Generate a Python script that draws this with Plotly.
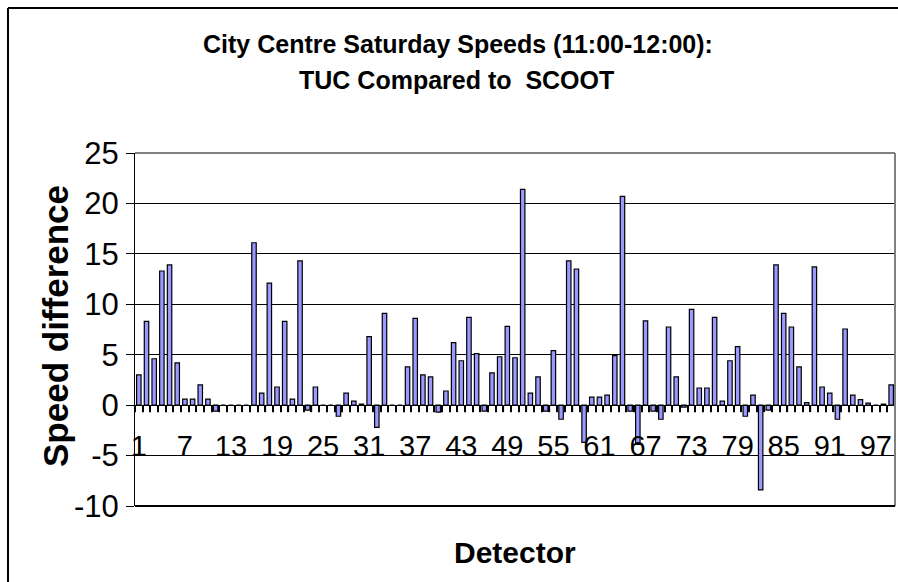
import plotly.graph_objects as go

# ---- data ----
detectors = list(range(1, 100))
speed_difference = [
    3.0, 8.3, 4.6, 13.3, 13.9, 4.2, 0.6, 0.6, 2.0, 0.6,
    -0.6, 0.0, 0.0, 0.0, 0.0, 16.1, 1.2, 12.1, 1.8, 8.3,
    0.6, 14.3, -0.5, 1.8, 0.0, 0.0, -1.1, 1.2, 0.4, 0.1,
    6.8, -2.2, 9.1, 0.0, 0.0, 3.8, 8.6, 3.0, 2.8, -0.7,
    1.4, 6.2, 4.4, 8.7, 5.1, -0.6, 3.2, 4.8, 7.8, 4.7,
    21.4, 1.2, 2.8, -0.6, 5.4, -1.4, 14.3, 13.5, -3.7, 0.8,
    0.8, 1.0, 4.9, 20.7, -0.6, -3.9, 8.35, -0.6, -1.4, 7.75,
    2.8, -0.2, 9.5, 1.7, 1.7, 8.7, 0.4, 4.4, 5.8, -1.1,
    1.0, -8.4, -0.5, 13.9, 9.1, 7.75, 3.8, 0.25, 13.7, 1.8,
    1.2, -1.4, 7.55, 1.0, 0.55, 0.2, 0.0, 0.1, 2.0,
]
x_tick_values = list(range(1, 98, 6))
x_tick_labels = [str(v) for v in x_tick_values]
y_tick_values = [25, 20, 15, 10, 5, 0, -5, -10]
y_tick_labels = [str(v) for v in y_tick_values]

title_line1 = "City Centre Saturday Speeds (11:00-12:00):"
title_line2 = "TUC Compared to  SCOOT"
y_title = "Speed difference"
x_title = "Detector"

FONT = "Liberation Sans, Arial, sans-serif"
W, H = 898, 582
L, R, T, B = 135, 3, 153, 76
PW = W - L - R
PH = H - T - B


def px_x(px):
    return (px - L) / PW


def px_y(py):
    return (H - B - py) / PH


x_range = [detectors[0] - 0.5, detectors[-1] + 0.5]
y_min, y_max = -10, 25
zero_pos = (0 - y_min) / (y_max - y_min)
TICK_LEN_PX = 7
tick_len = TICK_LEN_PX * (y_max - y_min) / PH          # data units
tick_width = 1.2 * (x_range[1] - x_range[0]) / PW      # data units (~1 px)

fig = go.Figure()
fig.add_trace(go.Bar(
    x=detectors,
    y=speed_difference,
    width=0.58,
    marker=dict(color="#9999FF", line=dict(color="black", width=1.2)),
    showlegend=False,
))

# category-axis tick marks between detectors, drawn as thin bars below zero
tick_edges = [d - 0.5 for d in detectors] + [detectors[-1] + 0.5]
fig.add_trace(go.Bar(
    x=tick_edges,
    y=[-tick_len] * len(tick_edges),
    width=tick_width,
    marker=dict(color="black", line=dict(width=0)),
    showlegend=False, hoverinfo="skip",
))

fig.update_layout(
    width=W, height=H,
    margin=dict(l=L, r=R, t=T, b=B, pad=0),
    paper_bgcolor="white",
    plot_bgcolor="white",
    barmode="overlay",
    font=dict(family=FONT, color="black"),
    xaxis=dict(
        range=x_range,
        anchor="free",
        position=zero_pos,
        showline=True, linecolor="black", linewidth=1,
        showgrid=False, zeroline=False,
        tickmode="array", tickvals=x_tick_values, ticktext=x_tick_labels,
        ticks="", ticklabelstandoff=15,
        tickfont=dict(size=29, family=FONT),
    ),
    yaxis=dict(
        range=[y_min, y_max],
        showline=True, linecolor="black", linewidth=1,
        showgrid=True, gridcolor="black", gridwidth=1,
        zeroline=False,
        tickmode="array", tickvals=y_tick_values, ticktext=y_tick_labels,
        ticks="outside", ticklen=8, tickcolor="black",
        ticklabelstandoff=1,
        tickfont=dict(size=31, family=FONT),
    ),
)

shapes = [
    # plot-area border: grey top & right, black bottom
    dict(type="line", xref="paper", yref="paper", x0=0, x1=1, y0=1, y1=1,
         line=dict(color="#808080", width=2)),
    dict(type="line", xref="paper", yref="paper", x0=1, x1=1, y0=0, y1=1,
         line=dict(color="#808080", width=2)),
    dict(type="line", xref="paper", yref="paper", x0=0, x1=1, y0=0, y1=0,
         line=dict(color="black", width=2)),
    # outer chart frame (top & left)
    dict(type="line", xref="paper", yref="paper", x0=px_x(8), x1=px_x(898),
         y0=px_y(8), y1=px_y(8), line=dict(color="black", width=2)),
    dict(type="line", xref="paper", yref="paper", x0=px_x(8), x1=px_x(8),
         y0=px_y(8), y1=px_y(582), line=dict(color="black", width=2)),
]
fig.update_layout(shapes=shapes)

annotations = [
    dict(text="<b>" + title_line1 + "</b>", xref="paper", yref="paper",
         x=px_x(458), y=px_y(44), xanchor="center", yanchor="middle",
         showarrow=False, font=dict(size=25, family=FONT)),
    dict(text="<b>" + title_line2 + "</b>", xref="paper", yref="paper",
         x=px_x(456), y=px_y(80), xanchor="center", yanchor="middle",
         showarrow=False, font=dict(size=25, family=FONT)),
    dict(text="<b>" + y_title + "</b>", xref="paper", yref="paper",
         x=px_x(55), y=px_y(326), xanchor="center", yanchor="middle",
         textangle=-90, showarrow=False, font=dict(size=35, family=FONT)),
    dict(text="<b>" + x_title + "</b>", xref="paper", yref="paper",
         x=px_x(515), y=px_y(552), xanchor="center", yanchor="middle",
         showarrow=False, font=dict(size=30, family=FONT)),
]
fig.update_layout(annotations=annotations)

fig.write_html(
    "out.html",
    config={"displayModeBar": False},
    post_script="document.body.style.margin='0';document.body.style.overflow='hidden';",
)
